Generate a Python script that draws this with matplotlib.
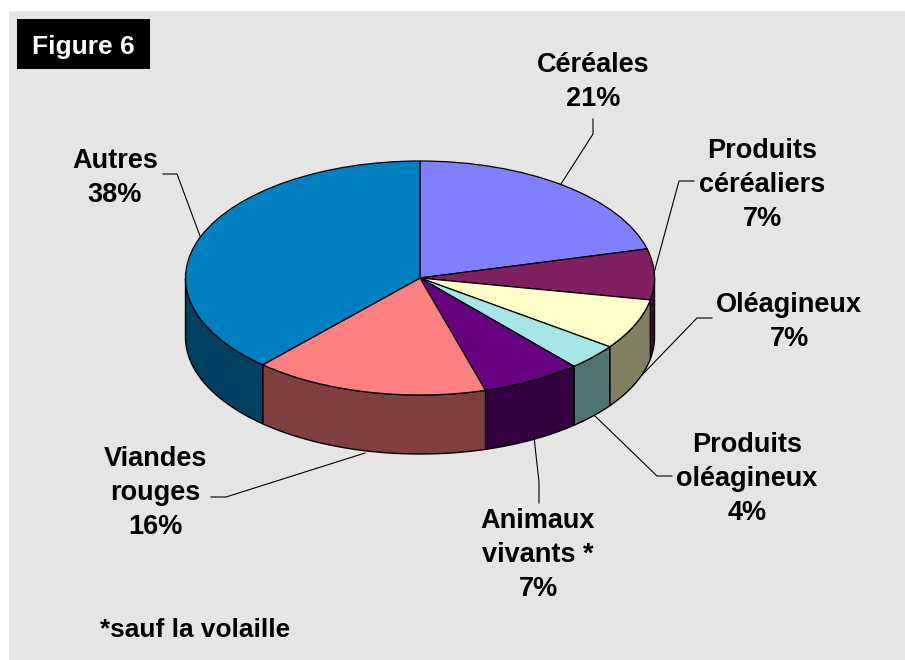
import numpy as np
import matplotlib
matplotlib.use("Agg")
import matplotlib.pyplot as plt

# Data
categories = ["Céréales", "Produits\ncéréaliers", "Oléagineux", "Produits\noléagineux",
              "Animaux\nvivants *", "Viandes\nrouges", "Autres"]
shown_percent = [21, 7, 7, 4, 7, 16, 38]
geometry_share = [21.0, 7.0, 7.0, 3.6, 6.9, 16.2, 38.3]
top_colors = ["#8080ff", "#802060", "#ffffcc", "#a6e6e6", "#660080", "#ff8080", "#0080c0"]
side_colors = ["#404080", "#401030", "#808060", "#507373", "#330040", "#804040", "#004060"]
label_centers = [(593, 81.5), (762, 184.5), (789, 322.5), (747, 479.5), (538, 554.5), (155, 493.5), (115, 177.5)]
leaders = [
    [(593, 119), (593, 134), (561, 184)],
    [(694, 181), (679, 181), (654, 273)],
    [(712, 318), (697, 318), (642, 375)],
    [(672, 476), (657, 476), (595, 416)],
    [(539, 503), (539, 482), (534, 437)],
    [(211, 497), (226, 497), (365, 453)],
    [(163, 174), (177, 174), (200, 236)],
]

W, H = 905, 660
CX, CY, RX, RY, DEPTH = 420, 278, 234.5, 117, 59

fig = plt.figure(figsize=(W / 100, H / 100), dpi=100, facecolor="white")
plt.rcParams["font.family"] = ["Liberation Sans", "DejaVu Sans"]

# Background layer, in pixel coordinates
bg = fig.add_axes([0, 0, 1, 1], zorder=0)
bg.set_xlim(0, W)
bg.set_ylim(H, 0)
bg.axis("off")
bg.fill_between([9, W], 11, H, color="#e5e5e5", lw=0)
bg.fill_between([17, 150], 19, 69, color="black", lw=0)

# Pie layer: unit circle squashed through the axes scales
pie = fig.add_axes([0, 0, 1, 1], zorder=1)
pie.patch.set_alpha(0)
edges = np.cumsum([0] + geometry_share) / sum(geometry_share) * 2 * np.pi
for a0, a1, c in zip(edges[:-1], edges[1:], side_colors):
    lo, hi = max(a0, np.pi / 2), min(a1, 3 * np.pi / 2)
    if hi <= lo:
        continue
    t = np.linspace(lo, hi, 80)
    x, y = np.sin(t), np.cos(t)
    d = DEPTH / RY
    pie.fill(np.r_[x, x[::-1]], np.r_[y, y[::-1] - d], facecolor=c, edgecolor="black", lw=1.0, zorder=1)
pie.pie(geometry_share, colors=top_colors, startangle=90, counterclock=False, radius=1,
        wedgeprops=dict(edgecolor="black", linewidth=0.9, zorder=2))
pie.set_aspect("auto")
pie.set_xlim(-CX / RX, (W - CX) / RX)
pie.set_ylim((CY - H) / RY, CY / RY)
pie.axis("off")

# Annotation layer
top = fig.add_axes([0, 0, 1, 1], zorder=2)
top.patch.set_alpha(0)
top.set_xlim(0, W)
top.set_ylim(H, 0)
top.axis("off")
for name, pct, (x, y), line in zip(categories, shown_percent, label_centers, leaders):
    top.plot(*zip(*line), color="black", lw=0.8, solid_joinstyle="miter")
    top.text(x, y, f"{name}\n{pct}%", ha="center", va="center", fontsize=19.5,
             fontweight="bold", color="black", linespacing=1.4)
top.text(83, 47, "Figure 6", ha="center", va="center", fontsize=19, fontweight="bold", color="white")
top.text(100, 630, "*sauf la volaille", ha="left", va="center", fontsize=18.9, fontweight="bold", color="black")

fig.savefig("out.png", dpi=100, facecolor="white")
